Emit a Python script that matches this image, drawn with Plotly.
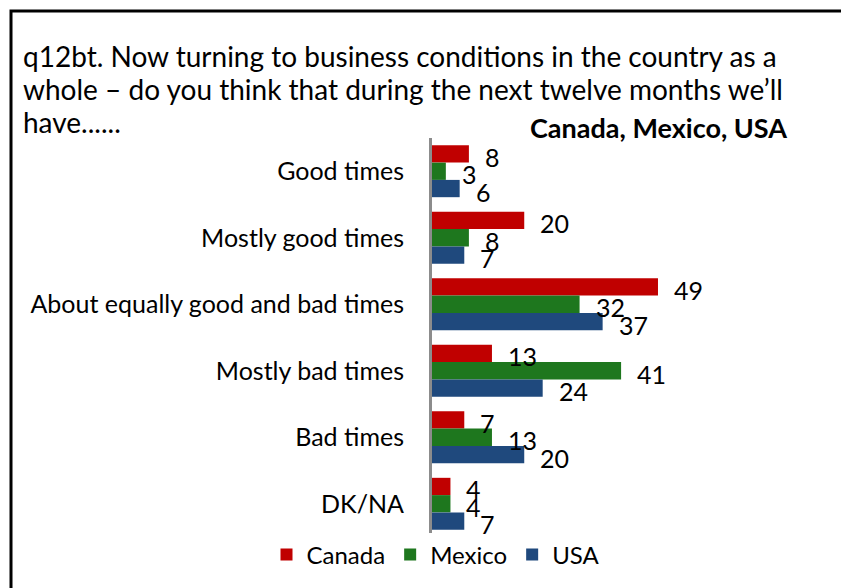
import plotly.graph_objects as go

categories = ["Good times", "Mostly good times", "About equally good and bad times",
              "Mostly bad times", "Bad times", "DK/NA"]
series_names = ["Canada", "Mexico", "USA"]
canada = [8, 20, 49, 13, 7, 4]
mexico = [3, 8, 32, 41, 13, 4]
usa = [6, 7, 37, 24, 20, 7]
colors = ["#C00000", "#1E771E", "#1F497D"]
title_lines = ["q12bt. Now turning to business conditions in the country as a",
               "whole \u2013 do you think that during the next twelve months we\u2019ll",
               "have......"]
subtitle_text = "<b>Canada, Mexico, USA</b>"

W, H = 841, 588
ml, mr, mt, mb = 432, 41, 138, 51
plot_w = W - ml - mr
plot_h = H - mt - mb
px_per_unit = 4.612
xmax = plot_w / px_per_unit
bargap = 0.22
band = plot_h / len(categories)
bar_px = band * (1 - bargap) / 3

FONT = "Lato"


def px_x(p):
    return (p - ml) / plot_w


def px_y(p):
    return (H - mb - p) / plot_h


fig = go.Figure()
all_vals = [canada, mexico, usa]
for i, (name, vals) in enumerate(zip(series_names, all_vals)):
    fig.add_trace(go.Bar(
        y=categories, x=vals, name=name, orientation="h",
        marker=dict(color=colors[i], line=dict(width=0)),
        hoverinfo="x+name",
    ))
    for cat, v in zip(categories, vals):
        fig.add_annotation(
            x=v, y=cat, xref="x", yref="y", text=str(v), showarrow=False,
            xanchor="left", yanchor="middle", xshift=14,
            yshift=(1 - i) * bar_px - 3,
            font=dict(family=FONT, size=25, color="black"),
        )

# title (one annotation per line to keep the original line spacing)
for k, line in enumerate(title_lines):
    fig.add_annotation(
        xref="paper", yref="paper", x=px_x(21), y=px_y(56 + 33 * k),
        text=line, showarrow=False, xanchor="left", yanchor="middle", align="left",
        font=dict(family=FONT, size=28, color="black"),
    )
fig.add_annotation(
    xref="paper", yref="paper", x=px_x(789), y=px_y(128),
    text=subtitle_text, showarrow=False, xanchor="right", yanchor="middle", align="right",
    font=dict(family=FONT, size=27, color="black"),
)

# border (top and left edges visible) drawn as one open path
bx0, by0 = px_x(11), px_y(11)
bx1, by1 = px_x(W + 10), px_y(H + 10)
fig.add_shape(type="path", xref="paper", yref="paper",
              path=f"M {bx1},{by0} L {bx0},{by0} L {bx0},{by1}",
              line=dict(color="black", width=3), fillcolor="rgba(0,0,0,0)")

fig.update_layout(
    width=W, height=H,
    margin=dict(l=ml, r=mr, t=mt, b=mb, pad=0, autoexpand=False),
    paper_bgcolor="white", plot_bgcolor="white",
    barmode="group", bargap=bargap, bargroupgap=0,
    font=dict(family=FONT, size=24, color="black"),
    showlegend=True,
    legend=dict(
        orientation="h", xref="container", yref="container",
        x=436 / W, y=1 - 555 / H, xanchor="center", yanchor="middle",
        font=dict(family=FONT, size=24, color="black"),
        itemwidth=30, tracegroupgap=0,
    ),
    xaxis=dict(range=[0, xmax], showgrid=False, zeroline=False, showline=False,
               showticklabels=False, ticks=""),
    yaxis=dict(range=[len(categories) - 0.5, -0.5], type="category",
               showgrid=False, zeroline=False, showline=True, linecolor="#8C8C8C",
               linewidth=3, ticks="", ticklabelstandoff=20,
               tickfont=dict(family=FONT, size=25, color="black")),
)

fig.write_html(
    "out.html",
    config={"displayModeBar": False},
    post_script=("document.documentElement.style.overflow='hidden';"
                 "document.body.style.margin='0';document.body.style.overflow='hidden';"),
)
